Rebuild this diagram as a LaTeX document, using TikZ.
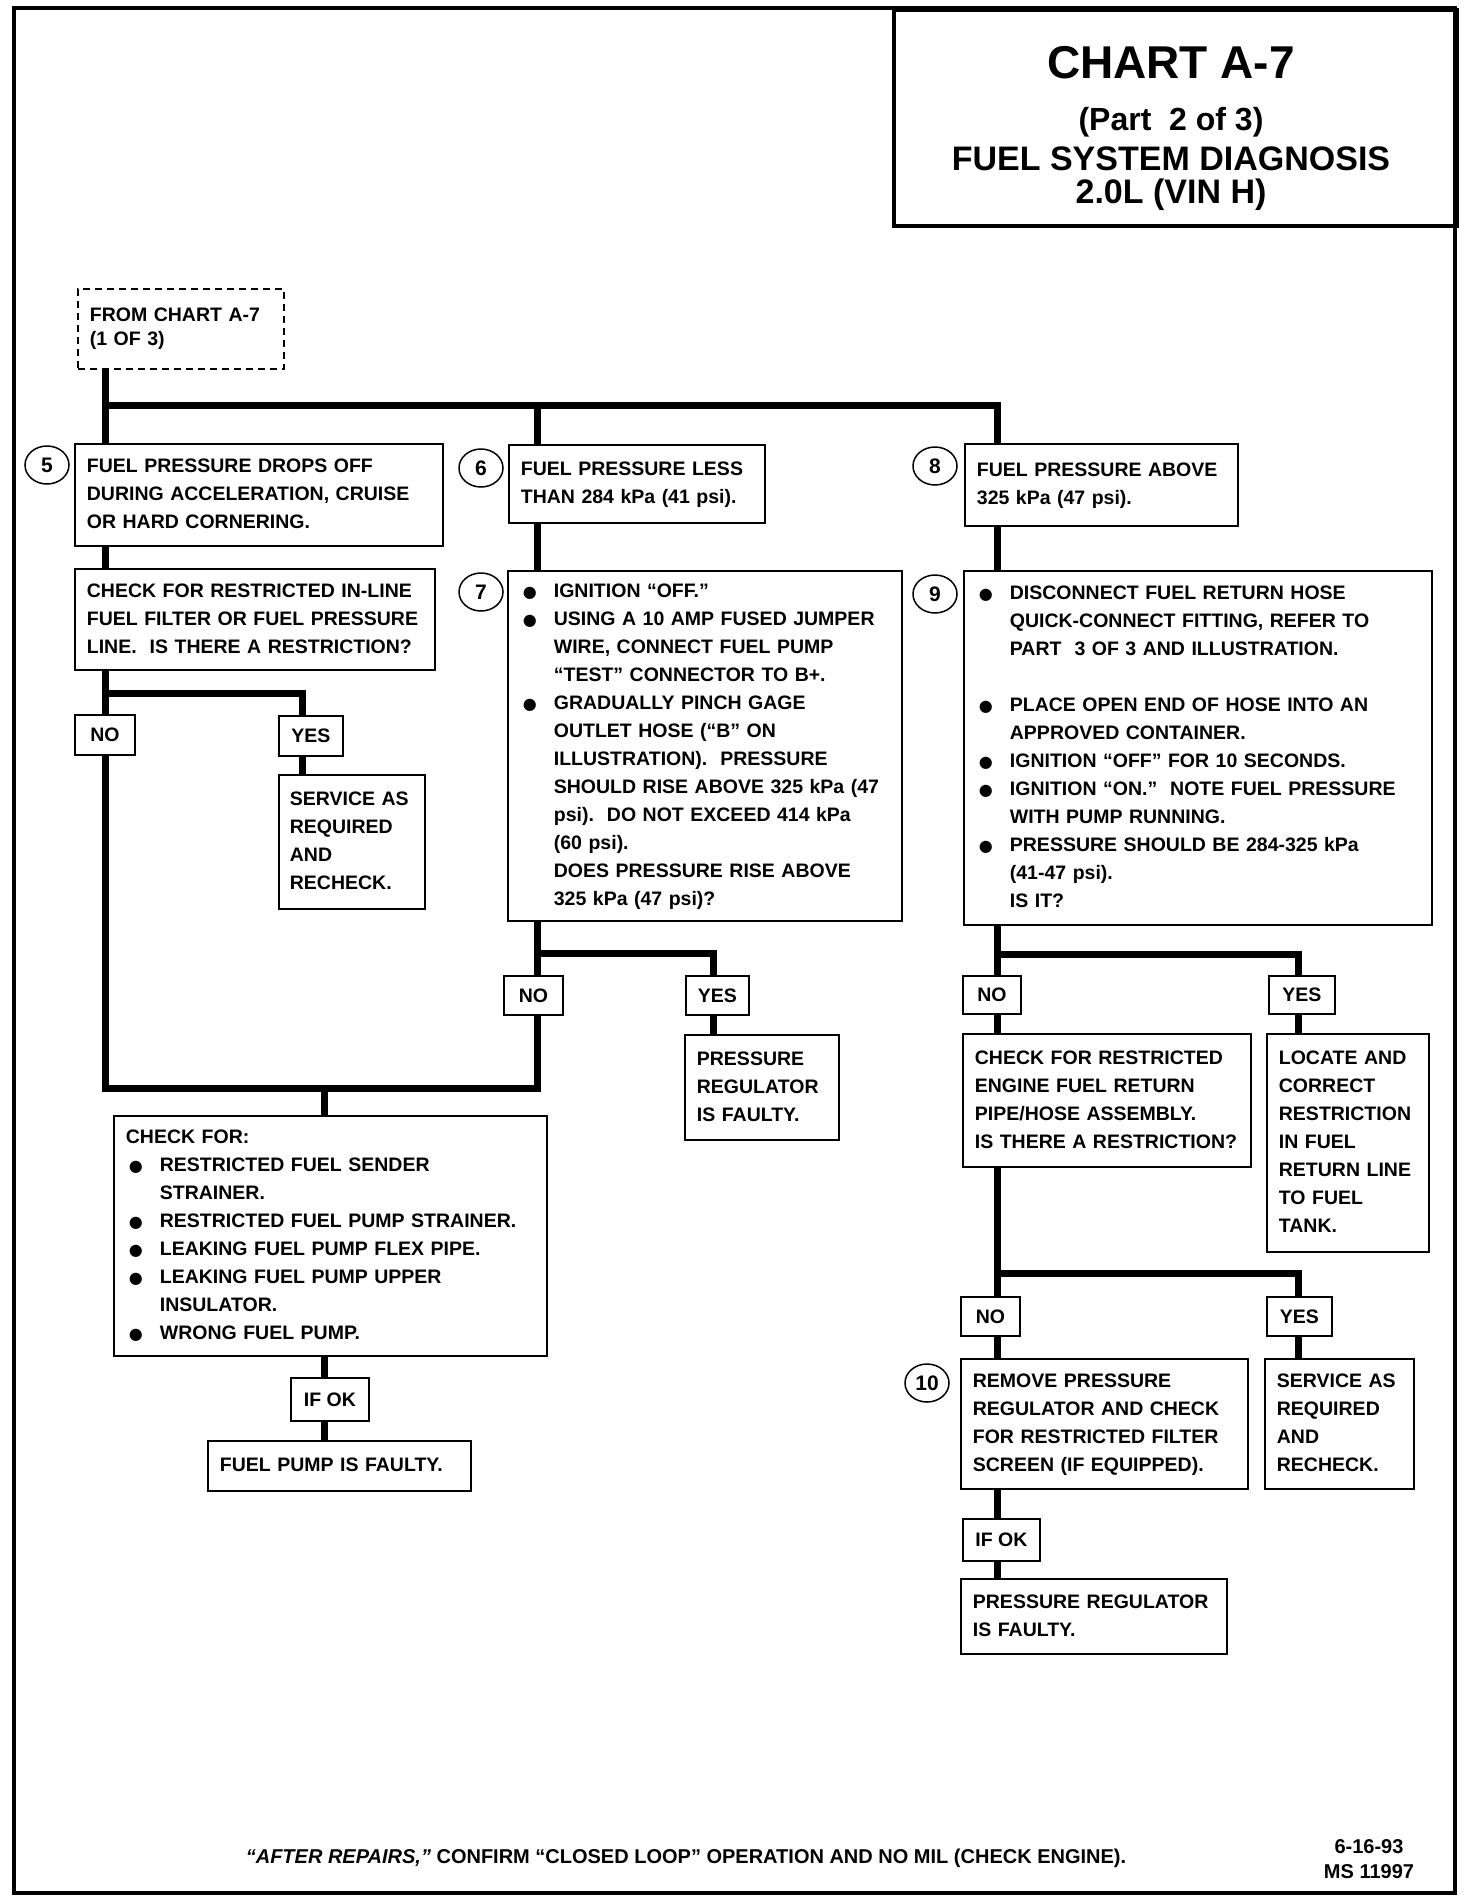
\documentclass[tikz,border=0pt]{standalone}
\usepackage{fontspec}
\setmainfont{Liberation Sans}
\newfontfamily\dejavu{DejaVu Sans}
\usetikzlibrary{shapes.geometric,calc}
\newcommand\bodyfont{\bfseries\fontsize{19.5}{28}\selectfont}
\newcommand\bl{\makebox[34pt][l]{\hspace{3pt}{\dejavu\fontsize{16}{16}\selectfont ●}}}
\newcommand\ind{\hspace*{34pt}}
\newcommand\tb[1]{\begin{tabular}{@{}l@{}}#1\end{tabular}}
\begin{document}
\begin{tikzpicture}[x=1pt,y=-1pt,
  box/.style={draw, line width=1.8pt, anchor=north west, inner xsep=12pt, inner ysep=0pt, align=left, font=\bodyfont},
  lbl/.style={draw, line width=1.8pt, anchor=north west, inner sep=0pt, align=center, font=\bodyfont},
  num/.style={draw, ellipse, line width=1.5pt, minimum width=44pt, minimum height=38pt, inner sep=0pt, font=\bfseries\fontsize{21}{21}\selectfont},
  conn/.style={line width=7pt, line join=miter},
  ttl/.style={anchor=base, font=\bfseries\fontsize{#1}{#1}\selectfont},
]
\useasboundingbox (0,0) rectangle (1472,1904);
% frame and title box
\draw[line width=4pt] (14,8) rectangle (1455,1893);
\node[draw, line width=3.5pt, anchor=north west, minimum width=563pt, minimum height=216pt, inner sep=0pt] (tbox) at (892,8) {};
\node[ttl=46] (t1) at (1171,78) {CHART A-7};
\node[ttl=32] (t2) at (1171,130) {(Part~~2 of 3)};
\node[ttl=34] (t3) at (1171,170) {FUEL SYSTEM DIAGNOSIS};
\node[ttl=34] (t4) at (1171,203) {2.0L (VIN H)};

% column coordinates
\coordinate (cA) at (105,0);
\coordinate (cYA) at (302,0);
\coordinate (cB) at (537,0);
\coordinate (cYB) at (713,0);
\coordinate (cC) at (997,0);
\coordinate (cYC) at (1298,0);
\coordinate (cJ) at (324,0);
\coordinate (bus) at (0,405);
\coordinate (brA) at (0,693);
\coordinate (brB) at (0,953);
\coordinate (brC) at (0,954);
\coordinate (brD) at (0,1273);
\coordinate (bot) at (0,1088);

% nodes
\node[box, dashed, dash pattern=on 7pt off 5pt, minimum width=206pt, minimum height=80pt, text width=182pt, font=\bfseries\fontsize{19.5}{24}\selectfont] (from) at (77,288) {FROM CHART A-7\\(1 OF 3)};

\node[num] (n5) at (47,465) {5};
\node[box, minimum width=368pt, minimum height=102pt, text width=344pt] (b5) at (74,443) {\tb{FUEL PRESSURE DROPS OFF\\DURING ACCELERATION, CRUISE\\OR HARD CORNERING.}};
\node[box, minimum width=360pt, minimum height=101pt, text width=336pt] (chk) at (74,568) {\tb{CHECK FOR RESTRICTED IN-LINE\\FUEL FILTER OR FUEL PRESSURE\\LINE.~~IS THERE A RESTRICTION?}};
\node[lbl, minimum width=60pt, minimum height=40pt] (noA) at (74,714) {NO};
\node[lbl, minimum width=64pt, minimum height=40pt] (yesA) at (278,715) {YES};
\node[box, inner xsep=11pt, minimum width=146pt, minimum height=134pt, text width=124pt] (svA) at (278,774) {\tb{SERVICE AS\\REQUIRED\\AND\\RECHECK.}};

\node[num] (n6) at (481,468) {6};
\node[box, minimum width=256pt, minimum height=78pt, text width=232pt] (b6) at (508,444) {\tb{FUEL PRESSURE LESS\\THAN 284 kPa (41 psi).}};
\node[num] (n7) at (481,592) {7};
\node[box, minimum width=394pt, minimum height=350pt, text width=370pt] (b7) at (507,570) {\tb{\bl IGNITION “OFF.”\\\bl USING A 10 AMP FUSED JUMPER\\\ind WIRE, CONNECT FUEL PUMP\\\ind “TEST” CONNECTOR TO B+.\\\bl GRADUALLY PINCH GAGE\\\ind OUTLET HOSE (“B” ON\\\ind ILLUSTRATION).~~PRESSURE\\\ind SHOULD RISE ABOVE 325 kPa (47\\\ind psi).~~DO NOT EXCEED 414 kPa\\\ind (60 psi).\\\ind DOES PRESSURE RISE ABOVE\\\ind 325 kPa (47 psi)?}};
\node[lbl, minimum width=59pt, minimum height=39pt] (noB) at (503,975) {NO};
\node[lbl, minimum width=63pt, minimum height=39pt] (yesB) at (685,975) {YES};
\node[box, minimum width=154pt, minimum height=105pt, text width=130pt] (prB) at (684,1034) {\tb{PRESSURE\\REGULATOR\\IS FAULTY.}};

\node[box, minimum width=433pt, minimum height=240pt, text width=409pt] (chkfor) at (113,1115) {\tb{CHECK FOR:\\\bl RESTRICTED FUEL SENDER\\\ind STRAINER.\\\bl RESTRICTED FUEL PUMP STRAINER.\\\bl LEAKING FUEL PUMP FLEX PIPE.\\\bl LEAKING FUEL PUMP UPPER\\\ind INSULATOR.\\\bl WRONG FUEL PUMP.}};
\node[lbl, minimum width=78pt, minimum height=43pt] (ifokA) at (290,1377) {IF OK};
\node[box, minimum width=263pt, minimum height=50pt, text width=239pt] (fpf) at (207,1440) {\tb{FUEL PUMP IS FAULTY.}};

\node[num] (n8) at (935,466) {8};
\node[box, minimum width=273pt, minimum height=82pt, text width=249pt] (b8) at (964,443) {\tb{FUEL PRESSURE ABOVE\\325 kPa (47 psi).}};
\node[num] (n9) at (935,594) {9};
\node[box, minimum width=468pt, minimum height=354pt, text width=444pt] (b9) at (963,570) {\tb{\bl DISCONNECT FUEL RETURN HOSE\\\ind QUICK-CONNECT FITTING, REFER TO\\\ind PART~~3 OF 3 AND ILLUSTRATION.\\[28pt]\bl PLACE OPEN END OF HOSE INTO AN\\\ind APPROVED CONTAINER.\\\bl IGNITION “OFF” FOR 10 SECONDS.\\\bl IGNITION “ON.”~~NOTE FUEL PRESSURE\\\ind WITH PUMP RUNNING.\\\bl PRESSURE SHOULD BE 284-325 kPa\\\ind (41-47 psi).\\\ind IS IT?}};
\node[lbl, minimum width=58pt, minimum height=38pt] (noC) at (962,975) {NO};
\node[lbl, minimum width=66pt, minimum height=38pt] (yesC) at (1268,975) {YES};
\node[box, minimum width=288pt, minimum height=133pt, text width=264pt] (crC) at (962,1033) {\tb{CHECK FOR RESTRICTED\\ENGINE FUEL RETURN\\PIPE/HOSE ASSEMBLY.\\IS THERE A RESTRICTION?}};
\node[box, minimum width=162pt, minimum height=218pt, text width=138pt] (loc) at (1266,1033) {\tb{LOCATE AND\\CORRECT\\RESTRICTION\\IN FUEL\\RETURN LINE\\TO FUEL\\TANK.}};
\node[lbl, minimum width=59pt, minimum height=39pt] (noD) at (960,1296) {NO};
\node[lbl, minimum width=65pt, minimum height=39pt] (yesD) at (1266,1296) {YES};
\node[num] (n10) at (927,1383) {10};
\node[box, minimum width=287pt, minimum height=130pt, text width=263pt] (b10) at (960,1358) {\tb{REMOVE PRESSURE\\REGULATOR AND CHECK\\FOR RESTRICTED FILTER\\SCREEN (IF EQUIPPED).}};
\node[box, minimum width=149pt, minimum height=130pt, text width=125pt] (svD) at (1264,1358) {\tb{SERVICE AS\\REQUIRED\\AND\\RECHECK.}};
\node[lbl, minimum width=77pt, minimum height=42pt] (ifokD) at (962,1518) {IF OK};
\node[box, minimum width=266pt, minimum height=75pt, text width=242pt] (prD) at (960,1578) {\tb{PRESSURE REGULATOR\\IS FAULTY.}};

% footer
\node[anchor=base, font=\bfseries\fontsize{20}{20}\selectfont] (foot) at (686,1863) {\textit{“AFTER REPAIRS,”} CONFIRM “CLOSED LOOP” OPERATION AND NO MIL (CHECK ENGINE).};
\node[anchor=base, font=\bfseries\fontsize{20}{20}\selectfont] (date) at (1369,1853) {6-16-93};
\node[anchor=base, font=\bfseries\fontsize{20}{20}\selectfont] (ms) at (1369,1878) {MS 11997};

% connectors
\draw[conn] (from.south -| cA) -- (b5.north -| cA);
\draw[conn] (cA |- bus) -- (cC |- bus) -- (b8.north -| cC);
\draw[conn] (cB |- bus) -- (b6.north -| cB);
\draw[conn] (b5.south -| cA) -- (chk.north -| cA);
\draw[conn] (chk.south -| cA) -- (noA.north -| cA);
\draw[conn] (cA |- brA) -- (cYA |- brA) -- (yesA.north -| cYA);
\draw[conn] (yesA.south -| cYA) -- (svA.north -| cYA);
\draw[conn] (noA.south -| cA) -- (cA |- bot) -- (cB |- bot) -- (noB.south -| cB);
\draw[conn] (cJ |- bot) -- (chkfor.north -| cJ);
\draw[conn] (chkfor.south -| cJ) -- (ifokA.north -| cJ);
\draw[conn] (ifokA.south -| cJ) -- (fpf.north -| cJ);
\draw[conn] (b6.south -| cB) -- (b7.north -| cB);
\draw[conn] (b7.south -| cB) -- (noB.north -| cB);
\draw[conn] (cB |- brB) -- (cYB |- brB) -- (yesB.north -| cYB);
\draw[conn] (yesB.south -| cYB) -- (prB.north -| cYB);
\draw[conn] (b8.south -| cC) -- (b9.north -| cC);
\draw[conn] (b9.south -| cC) -- (noC.north -| cC);
\draw[conn] (cC |- brC) -- (cYC |- brC) -- (yesC.north -| cYC);
\draw[conn] (yesC.south -| cYC) -- (loc.north -| cYC);
\draw[conn] (noC.south -| cC) -- (crC.north -| cC);
\draw[conn] (crC.south -| cC) -- (noD.north -| cC);
\draw[conn] (cC |- brD) -- (cYC |- brD) -- (yesD.north -| cYC);
\draw[conn] (yesD.south -| cYC) -- (svD.north -| cYC);
\draw[conn] (noD.south -| cC) -- (b10.north -| cC);
\draw[conn] (b10.south -| cC) -- (ifokD.north -| cC);
\draw[conn] (ifokD.south -| cC) -- (prD.north -| cC);
\end{tikzpicture}
\end{document}
